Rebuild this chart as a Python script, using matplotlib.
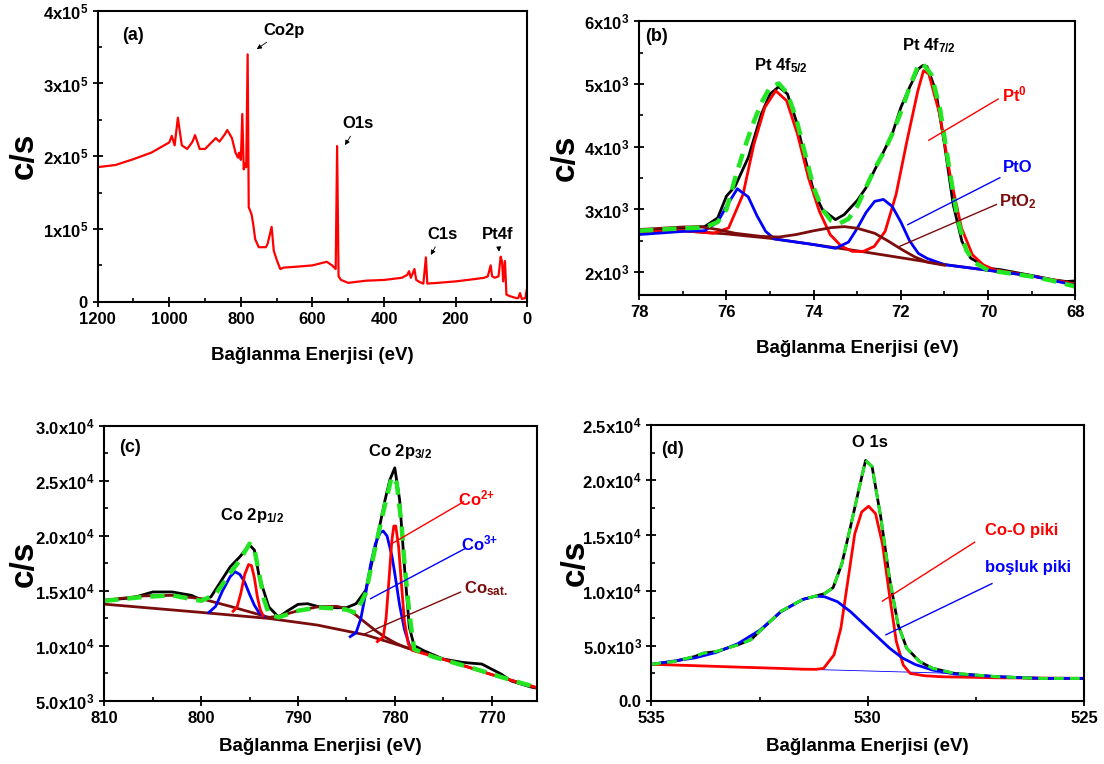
import matplotlib
matplotlib.use('Agg')
import matplotlib.pyplot as plt
from matplotlib.ticker import MultipleLocator

plt.rcParams['font.family'] = ['Liberation Sans', 'DejaVu Sans']
plt.rcParams['font.weight'] = 'bold'
plt.rcParams['mathtext.fontset'] = 'custom'
plt.rcParams['mathtext.rm'] = 'Liberation Sans:bold'
plt.rcParams['mathtext.it'] = 'Liberation Sans:bold'
plt.rcParams['mathtext.bf'] = 'Liberation Sans:bold'

# ---------------- (a) survey ----------------
a_be = [1200, 1150, 1100, 1050, 1000, 993, 985, 976, 965, 950, 935, 928, 915, 900, 880, 870,
        860, 845, 838, 825, 815, 808, 805, 800, 796, 792, 788, 785, 781, 778, 770, 765, 760,
        750, 740, 730, 725, 714, 708, 700, 690, 680, 650, 600, 560, 545, 535, 531, 527, 520,
        500, 450, 400, 350, 335, 330, 325, 315, 310, 300, 290, 283, 279, 250, 200, 150, 120,
        110, 102, 98, 90, 80, 74, 70, 67, 62, 58, 50, 30, 25, 20, 15, 5, 1, 0]
a_cps = [1.85e5, 1.88e5, 1.96e5, 2.05e5, 2.19e5, 2.28e5, 2.15e5, 2.53e5, 2.15e5, 2.1e5, 2.2e5,
         2.29e5, 2.1e5, 2.1e5, 2.2e5, 2.25e5, 2.2e5, 2.3e5, 2.36e5, 2.25e5, 2.05e5, 1.98e5,
         2.05e5, 1.95e5, 2.58e5, 1.82e5, 1.9e5, 1.85e5, 3.4e5, 1.3e5, 1.2e5, 1.05e5, 0.86e5,
         0.75e5, 0.75e5, 0.75e5, 0.8e5, 1.03e5, 0.7e5, 0.58e5, 0.45e5, 0.47e5, 0.48e5, 0.5e5,
         0.55e5, 0.5e5, 0.45e5, 2.14e5, 0.35e5, 0.3e5, 0.26e5, 0.29e5, 0.3e5, 0.33e5, 0.37e5,
         0.42e5, 0.33e5, 0.45e5, 0.3e5, 0.27e5, 0.25e5, 0.61e5, 0.25e5, 0.26e5, 0.28e5, 0.31e5,
         0.33e5, 0.35e5, 0.5e5, 0.35e5, 0.33e5, 0.35e5, 0.62e5, 0.55e5, 0.28e5, 0.56e5, 0.1e5,
         0.08e5, 0.05e5, 0.05e5, 0.12e5, 0.04e5, 0.05e5, 0.17e5, 0.18e5]
a_yticks = [0, 1e5, 2e5, 3e5, 4e5]
a_ylabels = ['0', '1x10$^{5}$', '2x10$^{5}$', '3x10$^{5}$', '4x10$^{5}$']

# ---------------- (b) Pt 4f ----------------
b_raw_be = [78, 77, 76.5, 76.2, 76.0, 75.8, 75.5, 75.2, 75.0, 74.8, 74.6, 74.4, 74.2, 74.0, 73.8,
            73.5, 73.3, 73.0, 72.8, 72.5, 72.2, 72.0, 71.8, 71.6, 71.5, 71.4, 71.2, 71.0, 70.8,
            70.6, 70.4, 70.0, 69.7, 69.0, 68.5, 68.2, 68.0]
b_raw = [2662, 2705, 2726, 2865, 3212, 3372, 3826, 4520, 4841, 4958, 4841, 4414, 3826, 3292, 2999,
         2838, 2918, 3143, 3346, 3773, 4200, 4627, 4948, 5242, 5295, 5279, 4895, 4040, 3079,
         2491, 2224, 2064, 2037, 1947, 1877, 1850, 1861]
b_fit_be = [78, 77, 76.5, 76.2, 76.0, 75.8, 75.6, 75.4, 75.2, 75.0, 74.8, 74.6, 74.4, 74.2, 74.0,
            73.8, 73.6, 73.4, 73.2, 73.0, 72.8, 72.6, 72.4, 72.2, 72.0, 71.8, 71.6, 71.5, 71.3,
            71.1, 70.9, 70.7, 70.5, 70.3, 70.0, 69.5, 69.0, 68.5, 68.0]
b_fit = [2660, 2700, 2710, 2800, 3000, 3500, 3950, 4350, 4700, 4950, 5010, 4850, 4450, 3900, 3350,
         3000, 2820, 2780, 2850, 3050, 3350, 3650, 3900, 4200, 4550, 4950, 5300, 5330, 5150,
         4600, 3700, 2850, 2350, 2150, 2030, 1980, 1930, 1860, 1770]
b_bg_be = [78, 77, 76, 75, 74, 73, 72, 71, 70, 69, 68]
b_bg = [2640, 2660, 2610, 2540, 2440, 2340, 2230, 2120, 2030, 1940, 1810]
b_pt0_be = [78, 77, 76.3, 75.95, 75.62, 75.37, 75.12, 74.87, 74.62, 74.37, 74.12, 73.87, 73.62,
            73.36, 73.11, 72.86, 72.61, 72.36, 72.11, 71.86, 71.61, 71.48, 71.36, 71.11, 70.86,
            70.61, 70.36, 70.11, 69.85, 69, 68]
b_pt0 = [2640, 2660, 2620, 2705, 3239, 4040, 4627, 4894, 4734, 4200, 3506, 2972, 2598, 2411,
         2331, 2331, 2411, 2652, 3239, 4093, 4894, 5215, 5162, 4520, 3506, 2705, 2278, 2117,
         2037, 1940, 1810]
b_pto_be = [78, 77, 76.5, 76.2, 76.0, 75.75, 75.5, 75.3, 75.1, 74.9, 74.0, 73.5, 73.2, 73.0,
            72.8, 72.6, 72.4, 72.2, 72.0, 71.8, 71.6, 71.4, 71.0, 70.0, 69.0, 68.0]
b_pto = [2600, 2650, 2660, 2800, 3050, 3330, 3200, 2900, 2650, 2530, 2440, 2380, 2480, 2700,
         2950, 3130, 3160, 3050, 2800, 2500, 2300, 2220, 2120, 2030, 1940, 1790]
b_pto2_be = [78, 77, 76.6, 76.2, 75.8, 75.2, 74.8, 74.4, 74.0, 73.6, 73.3, 73.0, 72.6, 72.3,
             72.0, 71.7, 71.4, 71.0]
b_pto2 = [2680, 2720, 2725, 2680, 2620, 2570, 2560, 2600, 2660, 2710, 2726, 2700, 2620, 2500,
          2370, 2250, 2160, 2110]
b_yticks = [2000, 3000, 4000, 5000, 6000]
b_ylabels = ['2x10$^{3}$', '3x10$^{3}$', '4x10$^{3}$', '5x10$^{3}$', '6x10$^{3}$']

# ---------------- (c) Co 2p ----------------
c_raw_be = [810, 807, 805, 803, 801, 800, 799, 798, 797, 796, 795, 794.5, 794, 793, 792, 791, 790,
            789, 788, 786, 785, 784, 783, 782, 781, 780.5, 780, 779.5, 779, 778.5, 778, 777, 775,
            773, 771, 770, 769, 768, 766, 765.3]
c_raw = [14146, 14390, 14909, 14909, 14600, 14200, 14450, 15823, 17195, 18110, 19177, 18720, 16280,
         13537, 12622, 13232, 13780, 13841, 13597, 13476, 13476, 13841, 15061, 19024, 23293, 25122,
         26189, 23293, 17195, 11707, 10030, 9573, 8811, 8506, 8354, 7896, 7439, 6829, 6280, 6158]
c_fit_be = [810, 806, 803, 800, 798.5, 797, 796, 795, 794.5, 794, 793.5, 793, 792, 791, 790, 788,
            786, 785, 784, 783, 782, 781, 780.3, 779.8, 779.3, 779, 778.5, 778, 776, 774, 772,
            770, 768, 766, 765.3]
c_fit = [14100, 14450, 14600, 14100, 14700, 16600, 17800, 19300, 18800, 16500, 14200, 12900, 12600,
         12900, 13200, 13500, 13400, 13300, 13000, 14800, 19000, 22900, 25400, 24800, 21000, 17500,
         13000, 9700, 9000, 8500, 8000, 7450, 6900, 6400, 6200]
c_bg_be = [810, 800, 793, 788, 783, 778, 775, 770, 765.3]
c_bg = [13800, 13050, 12500, 11900, 11000, 9650, 8800, 7400, 6200]
c_sat_be = [810, 806, 803, 800, 797, 795, 793, 792, 790, 788, 786, 785, 784, 783, 782, 781, 780,
            779, 778]
c_sat = [14150, 14550, 14600, 14300, 13600, 13100, 12600, 12700, 13200, 13550, 13600, 13400, 12800,
         12100, 11400, 10800, 10300, 9900, 9600]
c_co3_be = [799.2, 798.5, 797.8, 797, 796.5, 796, 795.5, 795, 794.5, 794, 793.5]
c_co3 = [13050, 13600, 15000, 16300, 16750, 16500, 15800, 14700, 13700, 13000, 12700]
c_co3b_be = [784.6, 784, 783.5, 783, 782.5, 782, 781.5, 781.2, 780.8, 780.3, 780, 779.5, 779,
             778.5, 778.2]
c_co3b = [10850, 11200, 12500, 14800, 17400, 19300, 20300, 20450, 20000, 18200, 16600, 13700, 11500,
          10100, 9750]
c_co2_be = [796.7, 796.3, 795.9, 795.5, 795.1, 794.8, 794.5, 794.2, 793.9, 793.6]
c_co2 = [13150, 13500, 14800, 16500, 17400, 17300, 16200, 14500, 13300, 12750]
c_co2b_be = [781.8, 781.2, 780.9, 780.6, 780.3, 780.1, 779.9, 779.6, 779.3, 779.0, 778.6, 778.2,
             775, 770, 765.3]
c_co2b = [10400, 10800, 12500, 16000, 19600, 20900, 20900, 19000, 15500, 12200, 10200, 9600, 8800,
          7400, 6200]
c_yticks = [5000, 10000, 15000, 20000, 25000, 30000]
c_ylabels = ['5.0x10$^{3}$', '1.0x10$^{4}$', '1.5x10$^{4}$', '2.0x10$^{4}$', '2.5x10$^{4}$',
             '3.0x10$^{4}$']

# ---------------- (d) O 1s ----------------
d_raw_be = [535, 534.5, 534, 533.8, 533.5, 533, 532.7, 532.5, 532, 531.5, 531.2, 531, 530.8,
            530.6, 530.4, 530.2, 530.05, 529.9, 529.7, 529.5, 529.3, 529.1, 528.8, 528.5, 528,
            527, 526, 525]
d_raw = [3323, 3567, 4024, 4329, 4482, 5091, 5549, 6311, 8140, 9207, 9512, 9726, 10274, 12408,
         15762, 19268, 21800, 21250, 16677, 11189, 6920, 4787, 3567, 2957, 2500, 2195, 2043, 2043]
d_vac_be = [535, 534, 533.5, 533, 532.5, 532, 531.5, 531.2, 531, 530.7, 530.4, 530.1, 529.8,
            529.5, 529.2, 528.9, 528.5, 528, 527, 526, 525]
d_vac = [3323, 3900, 4400, 5200, 6400, 8100, 9200, 9500, 9450, 9000, 8100, 7000, 5900, 4800, 3900,
         3300, 2800, 2450, 2200, 2050, 2050]
d_coo_be = [535, 534, 533, 532, 531.5, 531.2, 531.02, 530.78, 530.62, 530.46, 530.30, 530.14,
            529.98, 529.82, 529.66, 529.50, 529.34, 529.18, 529.02, 528.69, 528.29, 527, 525]
d_coo = [3323, 3200, 3070, 2950, 2880, 2866, 2957, 4177, 6616, 10884, 15152, 17134, 17652, 16982,
         14238, 9665, 5396, 3262, 2500, 2287, 2195, 2100, 2050]
d_bg_be = [531.2, 528]
d_bg = [2850, 2500]
d_yticks = [0, 5000, 10000, 15000, 20000, 25000]
d_ylabels = ['0.0', '5.0x10$^{3}$', '1.0x10$^{4}$', '1.5x10$^{4}$', '2.0x10$^{4}$', '2.5x10$^{4}$']

BROWN = '#7b0c0c'
GREEN = '#22e622'
DASH = (0, (3.2, 2))
fig = plt.figure(figsize=(11.04, 7.64), dpi=100)


def style(ax, xlim, ylim, xmaj, xmin, yticks, ylabels, ymin, xl_y, yl_x):
    ax.set_xlim(*xlim)
    ax.set_ylim(*ylim)
    ax.xaxis.set_major_locator(MultipleLocator(xmaj))
    ax.xaxis.set_minor_locator(MultipleLocator(xmin))
    ax.set_yticks(yticks, ylabels)
    ax.yaxis.set_minor_locator(MultipleLocator(ymin))
    ax.tick_params(which='major', direction='inout', length=7, width=1.3, labelsize=12)
    ax.tick_params(which='minor', direction='in', length=3, width=1.2)
    for s in ax.spines.values():
        s.set_linewidth(1.5)
    ax.set_xlabel('Bağlanma Enerjisi (eV)', fontsize=13.5, fontweight='bold')
    ax.set_ylabel('c/s', fontsize=24, fontweight='bold')
    ax.xaxis.set_label_coords(0.5, xl_y)
    ax.yaxis.set_label_coords(yl_x, 0.5)


# (a)
ax = fig.add_axes([0.0885, 0.605, 0.389, 0.381])
ax.plot(a_be, a_cps, color='red', lw=1.6)
style(ax, (1200, 0), (0, 4e5), 200, 100, a_yticks, a_ylabels, 0.5e5, -0.155, -0.135)
ax.text(1100, 3.66e5, '(a)', fontsize=13, ha='center', va='center')
arr = dict(arrowstyle='-|>', color='black', lw=0.6, mutation_scale=7)
ax.annotate('Co2p', xy=(762, 3.45e5), xytext=(680, 3.73e5), ha='center', va='center',
            fontsize=12, arrowprops=arr)
ax.annotate('O1s', xy=(513, 2.12e5), xytext=(472, 2.45e5), ha='center', va='center',
            fontsize=12, arrowprops=arr)
ax.annotate('C1s', xy=(273, 0.61e5), xytext=(237, 0.93e5), ha='center', va='center',
            fontsize=12, arrowprops=arr)
ax.annotate('Pt4f', xy=(78, 0.65e5), xytext=(82, 0.93e5), ha='center', va='center',
            fontsize=12, arrowprops=arr)

# (b)
ax = fig.add_axes([0.579, 0.614, 0.395, 0.358])
ax.plot(b_raw_be, b_raw, color='black', lw=2)
ax.plot(b_bg_be, b_bg, color=BROWN, lw=2)
ax.plot(b_pt0_be, b_pt0, color='red', lw=2)
ax.plot(b_pto_be, b_pto, color='blue', lw=2)
ax.plot(b_pto2_be, b_pto2, color=BROWN, lw=2)
ax.plot(b_fit_be, b_fit, color=GREEN, lw=3.2, ls=DASH)
style(ax, (78, 68), (1637, 6000), 2, 1, b_yticks, b_ylabels, 500, -0.165, -0.135)
ax.text(77.6, 5760, '(b)', fontsize=13, ha='center', va='center')
ax.text(74.74, 5295, 'Pt 4f$_{5/2}$', fontsize=12, ha='center', va='center')
ax.text(71.36, 5616, 'Pt 4f$_{7/2}$', fontsize=12, ha='center', va='center')
ax.plot([71.36, 69.77], [4104, 4761], color='red', lw=1)
ax.text(69.4, 4841, 'Pt$^{0}$', color='red', fontsize=12, ha='center', va='center')
ax.plot([71.84, 69.73], [2758, 3506], color='blue', lw=1)
ax.text(69.31, 3666, 'PtO', color='blue', fontsize=12, ha='center', va='center')
ax.plot([72.03, 69.81], [2411, 3079], color=BROWN, lw=1)
ax.text(69.31, 3132, 'PtO$_{2}$', color=BROWN, fontsize=12, ha='center', va='center')

# (c)
ax = fig.add_axes([0.0945, 0.0825, 0.392, 0.36])
ax.plot(c_raw_be, c_raw, color='black', lw=2)
ax.plot(c_bg_be, c_bg, color=BROWN, lw=2)
ax.plot(c_sat_be, c_sat, color=BROWN, lw=2)
ax.plot(c_co3_be, c_co3, color='blue', lw=2)
ax.plot(c_co3b_be, c_co3b, color='blue', lw=2)
ax.plot(c_co2_be, c_co2, color='red', lw=2)
ax.plot(c_co2b_be, c_co2b, color='red', lw=2)
ax.plot(c_fit_be, c_fit, color=GREEN, lw=3.2, ls=DASH)
style(ax, (810, 765.3), (5000, 30000), 10, 5, c_yticks, c_ylabels, 2500, -0.135, -0.15)
ax.text(807.3, 28000, '(c)', fontsize=13, ha='center', va='center')
ax.text(779.5, 27700, 'Co 2p$_{3/2}$', fontsize=12, ha='center', va='center')
ax.text(794.7, 21900, 'Co 2p$_{1/2}$', fontsize=12, ha='center', va='center')
ax.plot([780.3, 772.9], [19300, 23100], color='red', lw=1)
ax.text(771.6, 23400, 'Co$^{2{+}}$', color='red', fontsize=12, ha='center', va='center')
ax.plot([782.5, 772.7], [14300, 18870], color='blue', lw=1)
ax.text(771.2, 19300, 'Co$^{3{+}}$', color='blue', fontsize=12, ha='center', va='center')
ax.plot([783.1, 773.2], [11100, 14900], color=BROWN, lw=1)
ax.text(770.6, 15200, 'Co$_{sat.}$', color=BROWN, fontsize=12, ha='center', va='center')

# (d)
ax = fig.add_axes([0.59, 0.0825, 0.392, 0.361])
ax.plot(d_raw_be, d_raw, color='black', lw=2)
ax.plot(d_bg_be, d_bg, color='blue', lw=0.6)
ax.plot(d_coo_be, d_coo, color='red', lw=2)
ax.plot(d_vac_be, d_vac, color='blue', lw=2)
ax.plot(d_raw_be, d_raw, color=GREEN, lw=2.2, ls=DASH)
style(ax, (535, 525), (0, 25000), 5, 2.5, d_yticks, d_ylabels, 2500, -0.135, -0.14)
ax.text(534.5, 22800, '(d)', fontsize=13, ha='center', va='center')
ax.text(529.96, 23400, 'O 1s', fontsize=12, ha='center', va='center')
ax.plot([529.66, 527.53], [9055, 14390], color='red', lw=1)
ax.text(526.45, 15460, 'Co-O piki', color='red', fontsize=12, ha='center', va='center')
ax.plot([529.58, 527.13], [6000, 10640], color='blue', lw=1)
ax.text(526.3, 12100, 'boşluk piki', color='blue', fontsize=12, ha='center', va='center')

fig.savefig('out.png', dpi=100)
